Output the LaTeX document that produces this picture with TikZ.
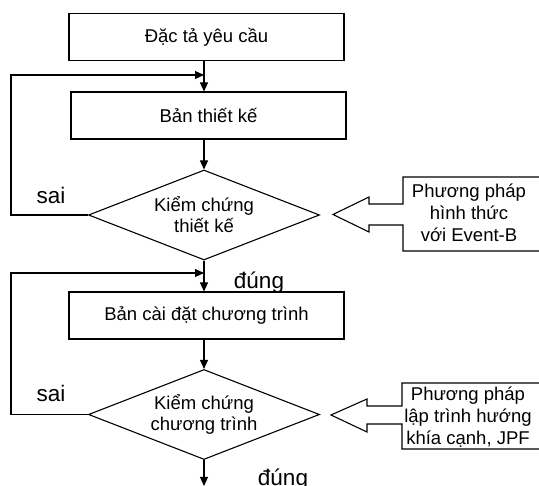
\documentclass[tikz,border=0pt]{standalone}
\usepackage{fontspec}
\setmainfont{Liberation Sans}
\usetikzlibrary{shapes.geometric,arrows.meta}
\begin{document}
\begin{tikzpicture}[x=1pt,y=-1pt,line width=1.1pt,
  txt/.style={font=\fontsize{18.5}{21}\selectfont,align=center},
  stepbox/.style={draw,txt,minimum width=275pt,minimum height=47pt,inner sep=0pt},
  check/.style={draw,shape=diamond,txt,aspect=2.57,minimum width=231pt,minimum height=90pt,inner sep=0pt},
  flow/.style={-{Triangle[length=9pt,width=8pt]}},
  lbl/.style={font=\fontsize{22.5}{26}\selectfont,inner sep=0pt},
  note/.style={font=\fontsize{18.5}{22}\selectfont,align=center,inner sep=0pt}]
\useasboundingbox (0,0) rectangle (539,486);
\clip (0,0) rectangle (539,486);

% main column
\coordinate (spine) at (204,0);
\node[stepbox] (spec)    at (206.5,37)    {Đặc tả yêu cầu};
\node[stepbox] (design)  at (208.5,115.5) {Bản thiết kế};
\node[check]   (vdesign) at (204,215)     {Kiểm chứng\\thiết kế};
\node[stepbox] (impl)    at (206.5,315.5) {Bản cài đặt chương trình};
\node[check]   (vimpl)   at (204,414.5)   {Kiểm chứng\\chương trình};
\coordinate (loop1) at (204,75);
\coordinate (loop2) at (204,273);
\coordinate (exit)  at (204,486);

\draw[flow] (spec.south -| spine) -- (design.north -| spine);
\draw[flow] (design.south -| spine) -- (vdesign.north);
\draw[flow] (vdesign.south) -- (impl.north -| spine);
\draw[flow] (impl.south -| spine) -- (vimpl.north);
\draw[flow] (vimpl.south) -- (exit);

% feedback loops
\draw[flow] (vdesign.west) -- ++(-77,0) |- (loop1);
\draw[flow] (vimpl.west) -- ++(-77,0) |- (loop2);

% branch labels
\node[lbl] (no1)  at (51,195)    {sai};
\node[lbl] (yes1) at (259,282.5) {đúng};
\node[lbl] (no2)  at (51,393)    {sai};
\node[lbl] (yes2) at (283,480)   {đúng};

% method callouts
\draw (403,204) -- (369,204) -- (369,197) -- (333,214.5) -- (369,232) -- (369,225)
  -- (403,225) -- (403,251) -- (545,251) -- (545,177) -- (403,177) -- cycle;
\node[note] (formal) at (469,213) {Phương pháp\\hình thức\\với Event-B};

\draw (402,406) -- (367,406) -- (367,399) -- (331,415) -- (367,432) -- (367,424)
  -- (402,424) -- (402,449) -- (545,449) -- (545,383) -- (402,383) -- cycle;
\node[note] (aspect) at (468,417) {Phương pháp\\lập trình hướng\\khía cạnh, JPF};
\end{tikzpicture}
\end{document}
